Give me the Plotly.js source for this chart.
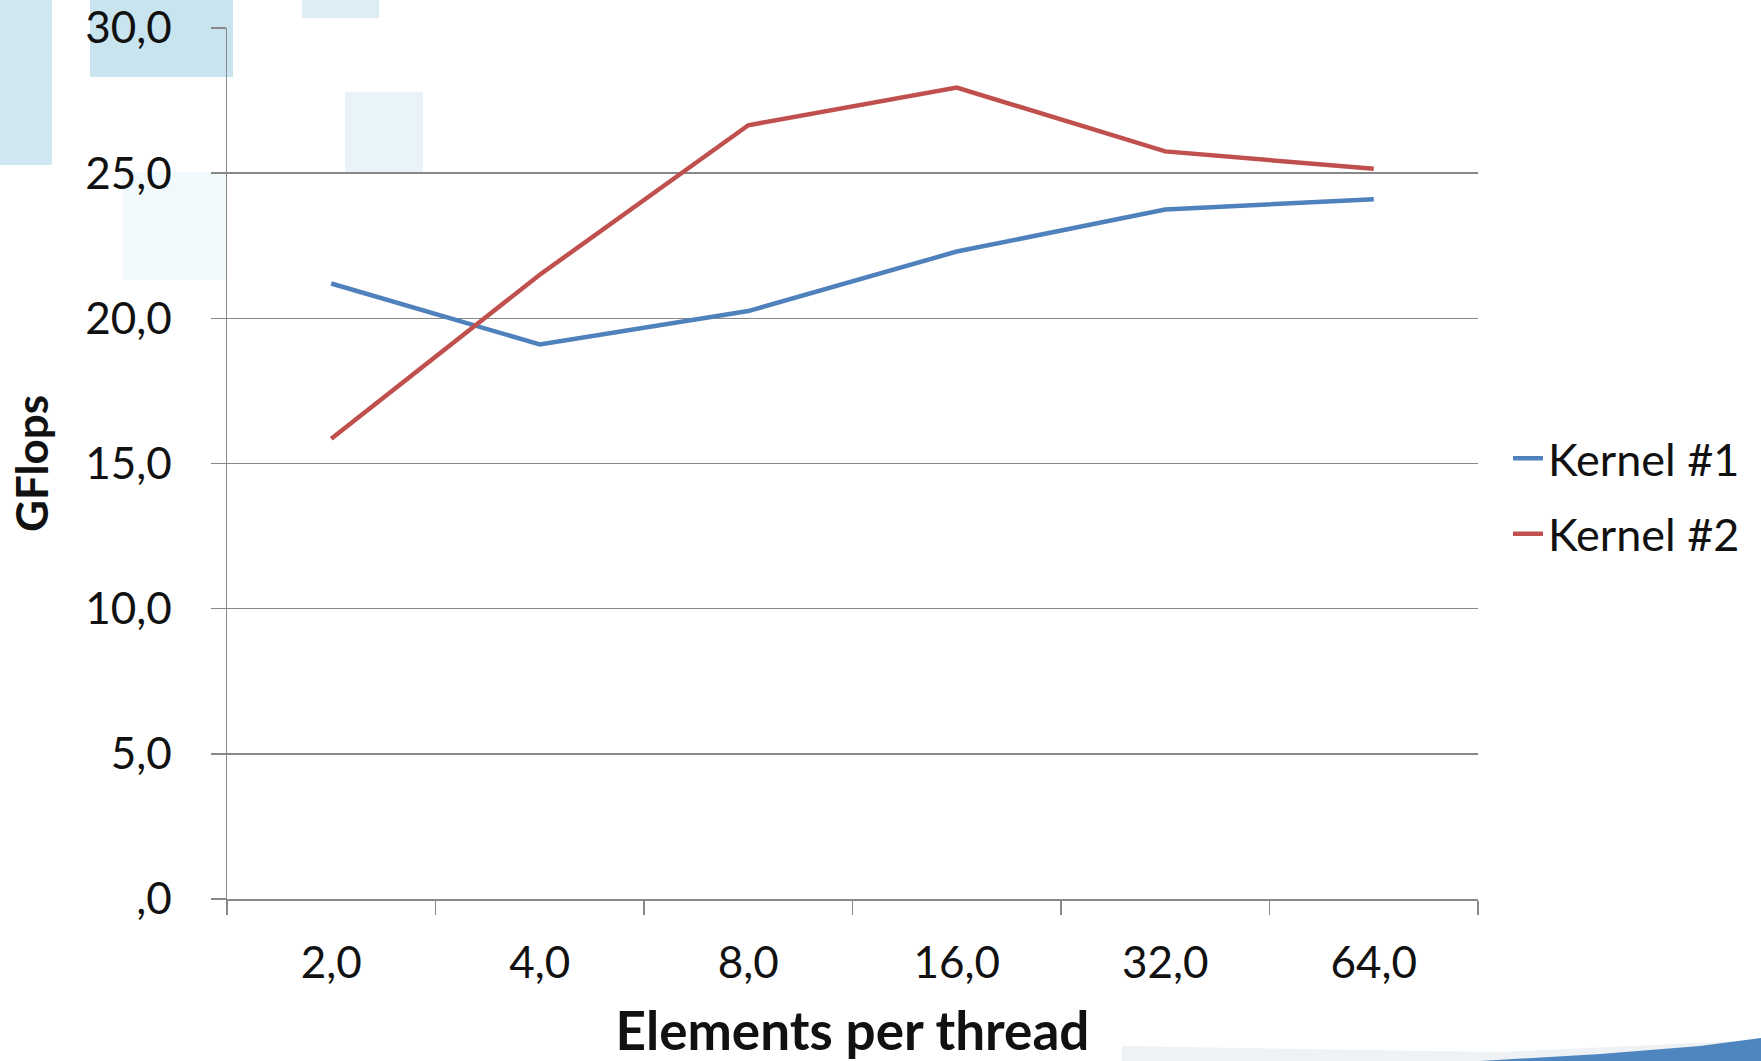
<!DOCTYPE html>
<html>
<head>
<meta charset="utf-8">
<script src="https://cdn.plot.ly/plotly-3.0.1.min.js"></script>
<style>html,body{margin:0;padding:0;background:#fff;}#chart{width:1761px;height:1061px;}</style>
</head>
<body>
<div id="chart"></div>
<script>
// ---- data ----
var categories = ["2,0", "4,0", "8,0", "16,0", "32,0", "64,0"];
var kernel1 = [21.2, 19.1, 20.25, 22.3, 23.75, 24.1];
var kernel2 = [15.85, 21.5, 26.65, 27.95, 25.75, 25.15];
var seriesNames = ["Kernel #1", "Kernel #2"];
var yTickVals = [0, 5, 10, 15, 20, 25, 30];
var yTickText = [",0", "5,0", "10,0", "15,0", "20,0", "25,0", "30,0"];

// ---- layout geometry (pixels) ----
var W = 1761, H = 1061;
var L = 227, R = 1478, T = 28, B = 899;
function px(x) { return (x - L) / (R - L); }
function py(y) { return (B - y) / (B - T); }
function rect(x0, y0, x1, y1, color) {
  return {type: "rect", xref: "paper", yref: "paper", layer: "below",
    x0: px(x0), x1: px(x1), y0: py(y0), y1: py(y1),
    fillcolor: color, line: {width: 0}};
}
function pathShape(pts, color) {
  var d = "M" + pts.map(function (p) { return px(p[0]) + "," + py(p[1]); }).join(" L") + " Z";
  return {type: "path", xref: "paper", yref: "paper", layer: "below", path: d,
    fillcolor: color, line: {width: 0}};
}

var shapes = [
  rect(0, -5, 52, 165, "#cfe8f1"),
  rect(90, -5, 233, 77, "#c8e4ef"),
  rect(302, -5, 379, 18, "#dcedf4"),
  rect(345, 92, 423, 172, "#e8f4f9"),
  rect(122, 172, 227, 280, "#f2f9fc"),
  pathShape([[1122, 1061], [1122, 1046], [1300, 1049], [1500, 1052], [1761, 1040], [1761, 1061]], "#eef2f5"),
  pathShape([[1480, 1061], [1600, 1054], [1700, 1046], [1761, 1038], [1761, 1061]], "#4f86c0")
];

var font = "Lato, 'Open Sans', sans-serif";

var traces = [
  {x: categories, y: kernel1, name: seriesNames[0], type: "scatter", mode: "lines",
   line: {color: "#4F81BD", width: 4.5}, legendgroup: "a"},
  {x: categories, y: kernel2, name: seriesNames[1], type: "scatter", mode: "lines",
   line: {color: "#C0504D", width: 4.5}, legendgroup: "b"}
];

var layout = {
  width: W, height: H,
  margin: {l: L, r: W - R, t: T, b: H - B, pad: 0},
  paper_bgcolor: "#ffffff",
  plot_bgcolor: "rgba(0,0,0,0)",
  font: {family: font, color: "#111111", size: 44},
  showlegend: true,
  legend: {x: px(1508), xanchor: "left", y: py(496), yanchor: "middle",
    font: {family: font, size: 45, color: "#111"}, bgcolor: "rgba(0,0,0,0)",
    borderwidth: 0, traceorder: "grouped", tracegroupgap: 14},
  xaxis: {
    type: "category", tickson: "boundaries", range: [-0.5, 5.5], autorange: false,
    ticks: "outside", ticklen: 14, tickwidth: 1.5, tickcolor: "#888888",
    showline: true, linecolor: "#888888", linewidth: 1.5,
    showgrid: false, zeroline: false,
    tickfont: {family: font, size: 44, color: "#111"},
    ticklabelstandoff: 25,
    title: {text: "<b>Elements per thread</b>", font: {family: font, size: 53, color: "#111"}, standoff: 28}
  },
  yaxis: {
    range: [0, 30], tickvals: yTickVals, ticktext: yTickText,
    ticks: "outside", ticklen: 15, tickwidth: 1.5, tickcolor: "#888888",
    showline: true, linecolor: "#888888", linewidth: 1.5,
    showgrid: true, gridcolor: "#888888", gridwidth: 1.5, zeroline: false,
    tickfont: {family: font, size: 44, color: "#111"},
    ticklabelstandoff: 30,
    title: {text: "<b>GFlops</b>", font: {family: font, size: 44, color: "#111"}, standoff: 22}
  },
  shapes: shapes
};

Plotly.newPlot("chart", traces, layout, {displayModeBar: false, staticPlot: true});
</script>
</body>
</html>
